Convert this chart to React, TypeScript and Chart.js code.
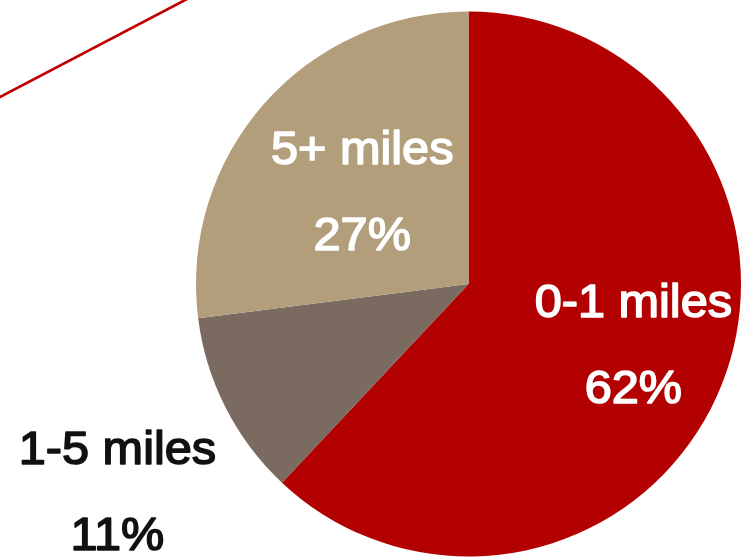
import React, { useEffect, useRef } from "react";
import { Chart, registerables } from "chart.js";

Chart.register(...registerables);

const categories = ["0-1 miles", "1-5 miles", "5+ miles"];
const shares = [62, 11, 27];
const percentLabels = ["62%", "11%", "27%"];
const colors = ["#B30000", "#7B6A60", "#B39E7B"];
const labelColors = ["#FFFFFF", "#111111", "#FFFFFF"];
// label placement: [distance along mid-angle in radii, extra dx in radii, extra dy in radii]
const labelPlacement = [
  [0.64, 0.01, -0.005],
  [1.42, -0.023, 0.125],
  [0.5, -0.015, 0.0],
];

const labelsPlugin = {
  id: "sliceLabels",
  afterDatasetsDraw(chart: any) {
    const ctx = chart.ctx;
    const meta = chart.getDatasetMeta(0);
    meta.data.forEach((arc: any, i: number) => {
      const { x, y, startAngle, endAngle, outerRadius } = arc.getProps(
        ["x", "y", "startAngle", "endAngle", "outerRadius"],
        true
      );
      const mid = (startAngle + endAngle) / 2;
      const [d, dx, dy] = labelPlacement[i];
      const cx = x + Math.cos(mid) * d * outerRadius + dx * outerRadius;
      const cy = y + Math.sin(mid) * d * outerRadius + dy * outerRadius;
      ctx.save();
      ctx.translate(cx, cy);
      ctx.scale(1.035, 1);
      ctx.font = "47px 'Liberation Sans', Arial, sans-serif";
      ctx.textAlign = "center";
      ctx.textBaseline = "middle";
      ctx.fillStyle = labelColors[i];
      ctx.strokeStyle = labelColors[i];
      ctx.lineWidth = 1.6;
      ctx.lineJoin = "round";
      [[categories[i], -43], [percentLabels[i], 43]].forEach(([t, oy]: any) => {
        ctx.fillText(t, 0, oy);
        ctx.strokeText(t, 0, oy);
      });
      ctx.restore();
    });
  },
};

const decoLinePlugin = {
  id: "decoLine",
  beforeDraw(chart: any) {
    const ctx = chart.ctx;
    ctx.save();
    ctx.strokeStyle = "#C00000";
    ctx.lineWidth = 2.6;
    ctx.beginPath();
    ctx.moveTo(-2, 98);
    ctx.lineTo(187, -1);
    ctx.stroke();
    ctx.restore();
  },
};

export default function App() {
  const ref = useRef<HTMLCanvasElement>(null);
  useEffect(() => {
    if (!ref.current) return;
    const chart = new Chart(ref.current, {
      type: "pie",
      data: {
        labels: categories,
        datasets: [
          {
            data: shares,
            backgroundColor: colors,
            borderWidth: 0,
          },
        ],
      },
      options: {
        animation: false,
        responsive: false,
        layout: { padding: { left: 196, right: 5, top: 11, bottom: 0 } },
        plugins: {
          legend: { display: false },
          tooltip: { enabled: false },
        },
      },
      plugins: [labelsPlugin, decoLinePlugin],
    });
    return () => chart.destroy();
  }, []);
  return (
    <div style={{ position: "fixed", left: 0, top: 0, width: 746, height: 557, background: "#fff" }}>
      <canvas ref={ref} width={746} height={557} style={{ display: "block" }} />
    </div>
  );
}
